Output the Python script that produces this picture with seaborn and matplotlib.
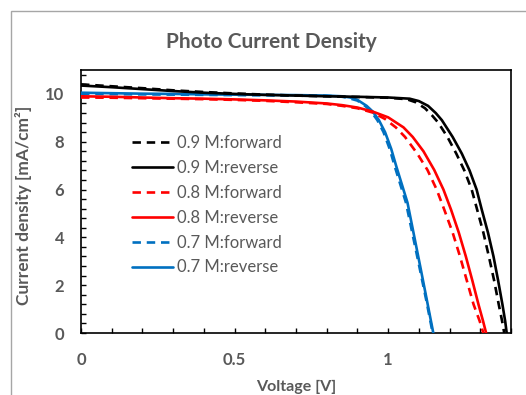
import matplotlib
matplotlib.use("Agg")
import matplotlib.pyplot as plt
import seaborn as sns
import numpy as np
from matplotlib.ticker import MultipleLocator
from matplotlib.patches import Rectangle

# ---- data ----
labels = ["0.9 M:forward", "0.9 M:reverse", "0.8 M:forward",
          "0.8 M:reverse", "0.7 M:forward", "0.7 M:reverse"]

v_09f = [0, 0.1, 0.2, 0.3, 0.4, 0.5, 0.6, 0.7, 0.8, 0.9, 1.0, 1.06, 1.09, 1.12,
         1.143, 1.163, 1.193, 1.222, 1.248, 1.272, 1.29, 1.31, 1.328, 1.345, 1.36,
         1.371, 1.378]
j_09f = [10.4, 10.32, 10.24, 10.15, 10.08, 10.02, 9.97, 9.93, 9.9, 9.87, 9.84, 9.78,
         9.65, 9.4, 9.1, 8.8, 8.2, 7.5, 6.8, 6.0, 5.15, 4.2, 3.2, 2.2, 1.2, 0.5, 0]

v_09r = [0, 0.1, 0.2, 0.3, 0.4, 0.5, 0.6, 0.7, 0.8, 0.9, 1.0, 1.07, 1.10, 1.13,
         1.155, 1.175, 1.21, 1.24, 1.265, 1.288, 1.305, 1.325, 1.343, 1.358, 1.372,
         1.381, 1.386]
j_09r = [10.35, 10.28, 10.2, 10.12, 10.05, 10.0, 9.96, 9.93, 9.9, 9.88, 9.85, 9.8,
         9.7, 9.5, 9.2, 8.9, 8.2, 7.5, 6.8, 6.0, 5.15, 4.2, 3.2, 2.2, 1.2, 0.5, 0]

v_08f = [0, 0.1, 0.2, 0.3, 0.4, 0.5, 0.6, 0.7, 0.8, 0.85, 0.9, 0.95, 0.99, 1.025,
         1.055, 1.095, 1.128, 1.158, 1.183, 1.21, 1.234, 1.256, 1.278, 1.298, 1.31]
j_08f = [9.85, 9.84, 9.82, 9.8, 9.78, 9.75, 9.71, 9.65, 9.58, 9.5, 9.4, 9.22, 8.95,
         8.6, 8.2, 7.5, 6.82, 6.0, 5.15, 4.2, 3.2, 2.2, 1.2, 0.5, 0]

v_08r = [0, 0.1, 0.2, 0.3, 0.4, 0.5, 0.6, 0.7, 0.8, 0.85, 0.9, 0.95, 1.0, 1.05,
         1.08, 1.115, 1.15, 1.18, 1.205, 1.23, 1.253, 1.274, 1.294, 1.309, 1.319]
j_08r = [9.9, 9.88, 9.85, 9.82, 9.8, 9.77, 9.73, 9.68, 9.6, 9.53, 9.43, 9.26, 9.02,
         8.6, 8.2, 7.6, 6.82, 6.0, 5.15, 4.2, 3.2, 2.2, 1.2, 0.5, 0]

v_07f = [0, 0.1, 0.2, 0.3, 0.4, 0.5, 0.6, 0.7, 0.8, 0.85, 0.87, 0.9, 0.925, 0.945,
         0.965, 0.985, 1.005, 1.022, 1.04, 1.058, 1.08, 1.102, 1.124, 1.145]
j_07f = [10.0, 9.99, 9.98, 9.97, 9.96, 9.95, 9.94, 9.93, 9.92, 9.88, 9.83, 9.72,
         9.5, 9.26, 8.9, 8.4, 7.7, 6.95, 6.2, 5.45, 4.1, 2.75, 1.38, 0]

v_07r = [0, 0.1, 0.2, 0.3, 0.4, 0.5, 0.6, 0.7, 0.8, 0.85, 0.876, 0.9, 0.93, 0.95,
         0.97, 0.99, 1.01, 1.027, 1.045, 1.063, 1.084, 1.105, 1.126, 1.147]
j_07r = [10.05, 10.03, 10.01, 10.0, 9.98, 9.97, 9.96, 9.95, 9.93, 9.9, 9.85, 9.75,
         9.5, 9.26, 8.9, 8.4, 7.7, 6.95, 6.2, 5.45, 4.1, 2.75, 1.38, 0]

series_v = [v_09f, v_09r, v_08f, v_08r, v_07f, v_07r]
series_j = [j_09f, j_09r, j_08f, j_08r, j_07f, j_07r]
colors = ["#000000", "#000000", "#FF0000", "#FF0000", "#0070C0", "#0070C0"]
styles = ["--", "-", "--", "-", "--", "-"]

# ---- figure ----
sns.set_theme(style="white")
plt.rcParams['font.family'] = ['Lato', 'DejaVu Sans']
gray = "#595959"

fig = plt.figure(figsize=(5.26, 3.95), dpi=100)
ax = fig.add_axes([81/526, 62/395, 430/526, 263/395])

order = [5, 4, 3, 2, 1, 0]
for i in order:
    sns.lineplot(x=series_v[i], y=series_j[i], color=colors[i], ax=ax,
                 sort=False, estimator=None, label=labels[i], linewidth=1.9,
                 zorder=3 + (5 - i))
for line, i in zip(ax.lines, order):
    if styles[i] == "--":
        line.set_dashes((3.2, 2.2))

ax.set_xlim(0, 1.4)
ax.set_ylim(0, 11)
ax.xaxis.set_minor_locator(MultipleLocator(0.1))
ax.yaxis.set_major_locator(MultipleLocator(2))
ax.yaxis.set_minor_locator(MultipleLocator(0.4))
ax.set_xticks([0, 0.5, 1])
ax.set_xticklabels(["0", "0.5", "1"])
ax.tick_params(which="both", direction="in", length=3.5, width=1.0, color="black",
               bottom=True, left=True, top=False, right=False)
ax.tick_params(axis="x", which="major", pad=14, labelsize=12, labelcolor=gray)
ax.tick_params(axis="y", which="major", pad=12, labelsize=12, labelcolor=gray)
for lab in ax.get_xticklabels() + ax.get_yticklabels():
    lab.set_fontweight("bold")

for sp in ax.spines.values():
    sp.set_color("black")
    sp.set_linewidth(1.2)

ax.set_xlabel("Voltage [V]", fontsize=11.5, fontweight="bold", color=gray, labelpad=8)
ax.set_ylabel("Current density [mA/cm²]", fontsize=12.5, fontweight="bold",
              color=gray)
ax.yaxis.set_label_coords(-0.113, 0.485)

fig.text(271/526, 1 - 42/395, "Photo Current Density", ha="center", va="center",
         fontsize=15, fontweight="bold", color=gray)

handles, labs = ax.get_legend_handles_labels()
hmap = dict(zip(labs, handles))
leg = ax.legend([hmap[l] for l in labels], labels, loc="upper left",
                bbox_to_anchor=(0.118, 0.752), frameon=False, fontsize=12,
                handlelength=2.45, handletextpad=0.25, labelspacing=0.53,
                borderpad=0, borderaxespad=0)
for t in leg.get_texts():
    t.set_color(gray)

# outer chart-area border (cut off at right and bottom)
rect = Rectangle((11/526, -0.1), 600/526, 1.1 - 11/395, transform=fig.transFigure,
                 fill=False, edgecolor="#A6A6A6", linewidth=1.0, clip_on=False)
fig.patches.append(rect)

fig.savefig("out.png", dpi=100)
